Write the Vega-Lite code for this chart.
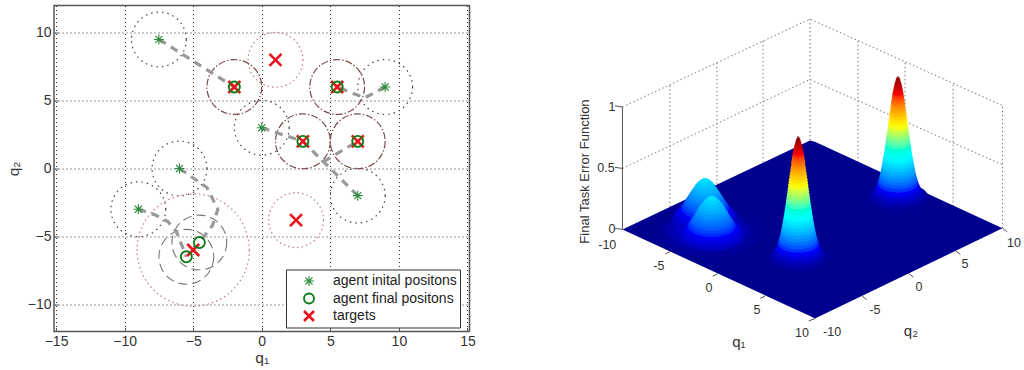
{
"$schema":"https://vega.github.io/schema/vega-lite/v6.json",
"background":"white",
"padding":{"left":5,"top":4.5,"right":0,"bottom":0},
"spacing":94,
"config":{"font":"Liberation Sans","view":{"stroke":null}},
"datasets":{
"circles":[
{"q1":-7.5,"q2":9.5,"radius":2,"kind":"agent range"},{"q1":9,"q2":6,"radius":2,"kind":"agent range"},{"q1":0,"q2":3,"radius":2,"kind":"agent range"},{"q1":7,"q2":-2,"radius":2,"kind":"agent range"},{"q1":-6,"q2":0,"radius":2,"kind":"agent range"},{"q1":-9,"q2":-3,"radius":2,"kind":"agent range"},
{"q1":1,"q2":8,"radius":2,"kind":"target range"},{"q1":2.5,"q2":-3.8,"radius":2,"kind":"target range"},{"q1":-5,"q2":-6,"radius":4.1,"kind":"target range"},
{"q1":-2,"q2":6,"radius":2,"kind":"covered"},{"q1":5.5,"q2":6,"radius":2,"kind":"covered"},{"q1":3,"q2":2,"radius":2,"kind":"covered"},{"q1":7,"q2":2,"radius":2,"kind":"covered"},
{"q1":-4.55,"q2":-5.45,"radius":2,"kind":"final range"},{"q1":-5.5,"q2":-6.5,"radius":2,"kind":"final range"}],
"paths":[
{"path":"a","step":1,"q1":-7.5,"q2":9.5},{"path":"a","step":2,"q1":-2,"q2":6},
{"path":"b","step":1,"q1":9,"q2":6},{"path":"b","step":2,"q1":7.5,"q2":5.2},{"path":"b","step":3,"q1":5.5,"q2":6},
{"path":"c","step":1,"q1":0,"q2":3},{"path":"c","step":2,"q1":3,"q2":2},
{"path":"d","step":1,"q1":7,"q2":-2},{"path":"d","step":2,"q1":3,"q2":2},
{"path":"e","step":1,"q1":4.5,"q2":0.5},{"path":"e","step":2,"q1":7,"q2":2},
{"path":"f","step":1,"q1":-6,"q2":0},{"path":"f","step":2,"q1":-4,"q2":-1.4},{"path":"f","step":3,"q1":-3.2,"q2":-3},{"path":"f","step":4,"q1":-3.6,"q2":-4.2},{"path":"f","step":5,"q1":-4.55,"q2":-5.45},
{"path":"g","step":1,"q1":-9,"q2":-3},{"path":"g","step":2,"q1":-7.8,"q2":-3.4},{"path":"g","step":3,"q1":-6.85,"q2":-3.9},{"path":"g","step":4,"q1":-6.2,"q2":-4.7},{"path":"g","step":5,"q1":-5.5,"q2":-6.5}],
"points":[
{"q1":-7.5,"q2":9.5,"kind":"agent inital positons"},{"q1":9,"q2":6,"kind":"agent inital positons"},{"q1":0,"q2":3,"kind":"agent inital positons"},{"q1":7,"q2":-2,"kind":"agent inital positons"},{"q1":-6,"q2":0,"kind":"agent inital positons"},{"q1":-9,"q2":-3,"kind":"agent inital positons"},
{"q1":-2,"q2":6,"kind":"targets"},{"q1":5.5,"q2":6,"kind":"targets"},{"q1":3,"q2":2,"kind":"targets"},{"q1":7,"q2":2,"kind":"targets"},{"q1":1,"q2":8,"kind":"targets"},{"q1":2.5,"q2":-3.8,"kind":"targets"},{"q1":-5,"q2":-6,"kind":"targets"},
{"q1":-2,"q2":6,"kind":"agent final positons"},{"q1":5.5,"q2":6,"kind":"agent final positons"},{"q1":3,"q2":2,"kind":"agent final positons"},{"q1":7,"q2":2,"kind":"agent final positons"},{"q1":-4.55,"q2":-5.45,"kind":"agent final positons"},{"q1":-5.5,"q2":-6.5,"kind":"agent final positons"}],
"floor":[{"u":-10,"top":0,"bottom":0},{"u":-0.13,"top":0.73,"bottom":-0.71},{"u":0.13,"top":0.72,"bottom":-0.73},{"u":10,"top":0.01,"bottom":0.01}],
"wire":[
{"g":"z1","s":1,"u":-10,"v":1.004},{"g":"z1","s":2,"u":-0.13,"v":1.725},{"g":"z1","s":3,"u":10,"v":1.016},
{"g":"z5","s":1,"u":-10,"v":0.5},{"g":"z5","s":2,"u":-0.13,"v":1.23},{"g":"z5","s":3,"u":10,"v":0.53},
{"g":"a","s":1,"u":-7.5,"v":0.185},{"g":"a","s":2,"u":-7.5,"v":1.185},
{"g":"b","s":1,"u":-5.03,"v":0.37},{"g":"b","s":2,"u":-5.03,"v":1.37},
{"g":"c","s":1,"u":-2.6,"v":0.55},{"g":"c","s":2,"u":-2.6,"v":1.55},
{"g":"d","s":1,"u":-0.13,"v":0.73},{"g":"d","s":2,"u":-0.13,"v":1.725},
{"g":"e","s":1,"u":2.4,"v":0.55},{"g":"e","s":2,"u":2.4,"v":1.55},
{"g":"f","s":1,"u":4.87,"v":0.37},{"g":"f","s":2,"u":4.87,"v":1.37},
{"g":"h","s":1,"u":7.4,"v":0.19},{"g":"h","s":2,"u":7.4,"v":1.19},
{"g":"i","s":1,"u":10,"v":0.01},{"g":"i","s":2,"u":10,"v":1.016}],
"axisLines":[
{"g":"zaxis","s":1,"u":-10,"v":0},{"g":"zaxis","s":2,"u":-10,"v":1.004},
{"g":"z0","s":1,"u":-10,"v":0},{"g":"z0","s":2,"u":-10.4,"v":0.01},
{"g":"z05","s":1,"u":-10,"v":0.5},{"g":"z05","s":2,"u":-10.4,"v":0.51},
{"g":"z10","s":1,"u":-10,"v":1.004},{"g":"z10","s":2,"u":-10.4,"v":1.014},
{"g":"p1","s":1,"u":-7.5,"v":-0.1825},{"g":"p1","s":2,"u":-7.75,"v":-0.2},
{"g":"p2","s":1,"u":-5,"v":-0.365},{"g":"p2","s":2,"u":-5.25,"v":-0.383},
{"g":"p3","s":1,"u":-2.5,"v":-0.5475},{"g":"p3","s":2,"u":-2.75,"v":-0.565},
{"g":"p4","s":1,"u":0.13,"v":-0.73},{"g":"p4","s":2,"u":-0.2,"v":-0.75},
{"g":"r1","s":1,"u":2.6,"v":-0.545},{"g":"r1","s":2,"u":2.85,"v":-0.575},
{"g":"r2","s":1,"u":5.06,"v":-0.36},{"g":"r2","s":2,"u":5.31,"v":-0.39},
{"g":"r3","s":1,"u":7.53,"v":-0.175},{"g":"r3","s":2,"u":7.78,"v":-0.205},
{"g":"r4","s":1,"u":10,"v":0.01},{"g":"r4","s":2,"u":10.25,"v":-0.02}],
"labels":[
{"u":-10.8,"v":-0.13,"t":"-10"},{"u":-8.08,"v":-0.3,"t":"-5"},{"u":-5.45,"v":-0.48,"t":"0"},{"u":-2.92,"v":-0.66,"t":"5"},{"u":-0.55,"v":-0.85,"t":"10"},
{"u":1.03,"v":-0.84,"t":"-10"},{"u":3.29,"v":-0.66,"t":"-5"},{"u":5.6,"v":-0.475,"t":"0"},{"u":8.03,"v":-0.287,"t":"5"},{"u":10.6,"v":-0.107,"t":"10"},
{"u":-10.55,"v":1.008,"t":"1"},{"u":-10.87,"v":0.5,"t":"0.5"},{"u":-10.55,"v":0.008,"t":"0"}],
"axisNames":[{"u":-3.87,"v":-0.926,"t":"q₁"},{"u":5.18,"v":-0.836,"t":"q₂"}],
"title3d":[{"u":-11.97,"v":0.475,"t":"Final Task Error Function"}],
"surface":[
{"u":4.5,"v":0.265,"z":0.01,"spread":30.4},{"u":4.5,"v":0.275,"z":0.02,"spread":28},{"u":4.5,"v":0.295,"z":0.04,"spread":25.4},{"u":4.5,"v":0.315,"z":0.06,"spread":23.7},{"u":4.5,"v":0.335,"z":0.08,"spread":22.5},{"u":4.5,"v":0.355,"z":0.1,"spread":21.5},{"u":4.5,"v":0.38,"z":0.125,"spread":20.4},{"u":4.5,"v":0.405,"z":0.15,"spread":19.5},{"u":4.5,"v":0.43,"z":0.175,"spread":18.7},{"u":4.5,"v":0.455,"z":0.2,"spread":17.9},{"u":4.5,"v":0.48,"z":0.225,"spread":17.3},{"u":4.5,"v":0.505,"z":0.25,"spread":16.7},{"u":4.5,"v":0.53,"z":0.275,"spread":16.1},{"u":4.5,"v":0.555,"z":0.3,"spread":15.5},{"u":4.5,"v":0.58,"z":0.325,"spread":15},{"u":4.5,"v":0.605,"z":0.35,"spread":14.5},{"u":4.5,"v":0.63,"z":0.375,"spread":14},{"u":4.5,"v":0.655,"z":0.4,"spread":13.5},{"u":4.5,"v":0.68,"z":0.425,"spread":13.1},{"u":4.5,"v":0.705,"z":0.45,"spread":12.6},{"u":4.5,"v":0.73,"z":0.475,"spread":12.2},{"u":4.5,"v":0.755,"z":0.5,"spread":11.8},{"u":4.5,"v":0.78,"z":0.525,"spread":11.4},{"u":4.5,"v":0.805,"z":0.55,"spread":10.9},{"u":4.5,"v":0.83,"z":0.575,"spread":10.5},{"u":4.5,"v":0.855,"z":0.6,"spread":10.1},{"u":4.5,"v":0.88,"z":0.625,"spread":9.7},{"u":4.5,"v":0.905,"z":0.65,"spread":9.3},{"u":4.5,"v":0.93,"z":0.675,"spread":8.9},{"u":4.5,"v":0.955,"z":0.7,"spread":8.5},{"u":4.5,"v":0.98,"z":0.725,"spread":8},{"u":4.5,"v":1.005,"z":0.75,"spread":7.6},{"u":4.5,"v":1.03,"z":0.775,"spread":7.1},{"u":4.5,"v":1.0425,"z":0.7875,"spread":6.9},{"u":4.5,"v":1.055,"z":0.8,"spread":6.7},{"u":4.5,"v":1.0675,"z":0.8125,"spread":6.45},{"u":4.5,"v":1.08,"z":0.825,"spread":6.2},{"u":4.5,"v":1.0925,"z":0.8375,"spread":5.95},{"u":4.5,"v":1.105,"z":0.85,"spread":5.7},{"u":4.5,"v":1.1175,"z":0.8625,"spread":5.45},{"u":4.5,"v":1.13,"z":0.875,"spread":5.2},{"u":4.5,"v":1.1425,"z":0.8875,"spread":4.9},{"u":4.5,"v":1.155,"z":0.9,"spread":4.6},{"u":4.5,"v":1.1675,"z":0.9125,"spread":4.3},{"u":4.5,"v":1.18,"z":0.925,"spread":4},{"u":4.5,"v":1.1925,"z":0.9375,"spread":3.6},{"u":4.5,"v":1.205,"z":0.95,"spread":3.2},{"u":4.5,"v":1.2175,"z":0.9625,"spread":2.8},{"u":4.5,"v":1.23,"z":0.975,"spread":2.3},{"u":4.5,"v":1.24,"z":0.985,"spread":1.8},{"u":4.5,"v":1.25,"z":0.995,"spread":1.2},
{"u":-5.5,"v":-0.03,"z":0.01,"spread":51.2},{"u":-5.5,"v":-0.02,"z":0.02,"spread":44.2},{"u":-5.5,"v":-0.01,"z":0.03,"spread":39.5},{"u":-5.5,"v":0,"z":0.04,"spread":35.8},{"u":-5.5,"v":0.01,"z":0.05,"spread":32.6},{"u":-5.5,"v":0.02,"z":0.06,"spread":29.8},{"u":-5.5,"v":0.04,"z":0.08,"spread":24.7},{"u":-5.5,"v":0.06,"z":0.1,"spread":19.8},{"u":-5.5,"v":0.08,"z":0.12,"spread":14.7},
{"u":-5.65,"v":0.0965,"z":0.05,"spread":32.7},{"u":-5.65,"v":0.1165,"z":0.07,"spread":30},{"u":-5.65,"v":0.1365,"z":0.085,"spread":27.8},{"u":-5.65,"v":0.1565,"z":0.1,"spread":25.8},{"u":-5.65,"v":0.1765,"z":0.12,"spread":24},{"u":-5.65,"v":0.1965,"z":0.135,"spread":22.4},{"u":-5.65,"v":0.2165,"z":0.155,"spread":20.8},{"u":-5.65,"v":0.2365,"z":0.17,"spread":19.3},{"u":-5.65,"v":0.2565,"z":0.185,"spread":17.8},{"u":-5.65,"v":0.2765,"z":0.205,"spread":16.3},{"u":-5.65,"v":0.2965,"z":0.22,"spread":14.8},{"u":-5.65,"v":0.3165,"z":0.24,"spread":13.3},{"u":-5.65,"v":0.3365,"z":0.255,"spread":11.7},{"u":-5.65,"v":0.3565,"z":0.27,"spread":10},{"u":-5.65,"v":0.3765,"z":0.29,"spread":8},{"u":-5.65,"v":0.3965,"z":0.305,"spread":5.6},{"u":-5.65,"v":0.4115,"z":0.32,"spread":2.8},
{"u":-5.3,"v":-0.05,"z":0.05,"spread":32.7},{"u":-5.3,"v":-0.03,"z":0.07,"spread":30},{"u":-5.3,"v":-0.01,"z":0.085,"spread":27.8},{"u":-5.3,"v":0.01,"z":0.1,"spread":25.8},{"u":-5.3,"v":0.03,"z":0.12,"spread":24},{"u":-5.3,"v":0.05,"z":0.135,"spread":22.4},{"u":-5.3,"v":0.07,"z":0.155,"spread":20.8},{"u":-5.3,"v":0.09,"z":0.17,"spread":19.3},{"u":-5.3,"v":0.11,"z":0.185,"spread":17.8},{"u":-5.3,"v":0.13,"z":0.205,"spread":16.3},{"u":-5.3,"v":0.15,"z":0.22,"spread":14.8},{"u":-5.3,"v":0.17,"z":0.24,"spread":13.3},{"u":-5.3,"v":0.19,"z":0.255,"spread":11.7},{"u":-5.3,"v":0.21,"z":0.27,"spread":10},{"u":-5.3,"v":0.23,"z":0.29,"spread":8},{"u":-5.3,"v":0.25,"z":0.305,"spread":5.6},{"u":-5.3,"v":0.265,"z":0.32,"spread":2.8},
{"u":-0.75,"v":-0.228,"z":0.01,"spread":30.4},{"u":-0.75,"v":-0.218,"z":0.02,"spread":28},{"u":-0.75,"v":-0.198,"z":0.04,"spread":25.4},{"u":-0.75,"v":-0.178,"z":0.06,"spread":23.7},{"u":-0.75,"v":-0.158,"z":0.08,"spread":22.5},{"u":-0.75,"v":-0.138,"z":0.1,"spread":21.5},{"u":-0.75,"v":-0.113,"z":0.125,"spread":20.4},{"u":-0.75,"v":-0.088,"z":0.15,"spread":19.5},{"u":-0.75,"v":-0.063,"z":0.175,"spread":18.7},{"u":-0.75,"v":-0.038,"z":0.2,"spread":17.9},{"u":-0.75,"v":-0.013,"z":0.225,"spread":17.3},{"u":-0.75,"v":0.012,"z":0.25,"spread":16.7},{"u":-0.75,"v":0.037,"z":0.275,"spread":16.1},{"u":-0.75,"v":0.062,"z":0.3,"spread":15.5},{"u":-0.75,"v":0.087,"z":0.325,"spread":15},{"u":-0.75,"v":0.112,"z":0.35,"spread":14.5},{"u":-0.75,"v":0.137,"z":0.375,"spread":14},{"u":-0.75,"v":0.162,"z":0.4,"spread":13.5},{"u":-0.75,"v":0.187,"z":0.425,"spread":13.1},{"u":-0.75,"v":0.212,"z":0.45,"spread":12.6},{"u":-0.75,"v":0.237,"z":0.475,"spread":12.2},{"u":-0.75,"v":0.262,"z":0.5,"spread":11.8},{"u":-0.75,"v":0.287,"z":0.525,"spread":11.4},{"u":-0.75,"v":0.312,"z":0.55,"spread":10.9},{"u":-0.75,"v":0.337,"z":0.575,"spread":10.5},{"u":-0.75,"v":0.362,"z":0.6,"spread":10.1},{"u":-0.75,"v":0.387,"z":0.625,"spread":9.7},{"u":-0.75,"v":0.412,"z":0.65,"spread":9.3},{"u":-0.75,"v":0.437,"z":0.675,"spread":8.9},{"u":-0.75,"v":0.462,"z":0.7,"spread":8.5},{"u":-0.75,"v":0.487,"z":0.725,"spread":8},{"u":-0.75,"v":0.512,"z":0.75,"spread":7.6},{"u":-0.75,"v":0.537,"z":0.775,"spread":7.1},{"u":-0.75,"v":0.5495,"z":0.7875,"spread":6.9},{"u":-0.75,"v":0.562,"z":0.8,"spread":6.7},{"u":-0.75,"v":0.5745,"z":0.8125,"spread":6.45},{"u":-0.75,"v":0.587,"z":0.825,"spread":6.2},{"u":-0.75,"v":0.5995,"z":0.8375,"spread":5.95},{"u":-0.75,"v":0.612,"z":0.85,"spread":5.7},{"u":-0.75,"v":0.6245,"z":0.8625,"spread":5.45},{"u":-0.75,"v":0.637,"z":0.875,"spread":5.2},{"u":-0.75,"v":0.6495,"z":0.8875,"spread":4.9},{"u":-0.75,"v":0.662,"z":0.9,"spread":4.6},{"u":-0.75,"v":0.6745,"z":0.9125,"spread":4.3},{"u":-0.75,"v":0.687,"z":0.925,"spread":4},{"u":-0.75,"v":0.6995,"z":0.9375,"spread":3.6},{"u":-0.75,"v":0.712,"z":0.95,"spread":3.2},{"u":-0.75,"v":0.7245,"z":0.9625,"spread":2.8},{"u":-0.75,"v":0.737,"z":0.975,"spread":2.3},{"u":-0.75,"v":0.747,"z":0.985,"spread":1.8},{"u":-0.75,"v":0.757,"z":0.995,"spread":1.2}
]},
"hconcat":[
{"width":415.5,"height":326,
"view":{"stroke":"#555","strokeWidth":1.5},
"resolve":{"scale":{"size":"independent"}},
"encoding":{
"x":{"field":"q1","type":"quantitative","title":"q₁","scale":{"domain":[-15.15,15.15],"nice":false,"zero":false},
"axis":{"values":[-15,-10,-5,0,5,10,15],"grid":true,"gridColor":"#333","gridDash":[1,3],"gridOpacity":1,"tickSize":-4,"tickColor":"#555","domain":false,"labelFontSize":14,"labelColor":"#333","labelPadding":7,"titleFontSize":15.5,"titleFontWeight":"normal","titleColor":"#333","titlePadding":2}},
"y":{"field":"q2","type":"quantitative","title":"q₂","scale":{"domain":[-12,12],"nice":false,"zero":false},
"axis":{"values":[-10,-5,0,5,10],"grid":true,"gridColor":"#333","gridDash":[1,3],"gridOpacity":1,"tickSize":-4,"tickColor":"#555","domain":false,"labelFontSize":14,"labelColor":"#333","labelPadding":7,"titleFontSize":15.5,"titleFontWeight":"normal","titleColor":"#333","titlePadding":6}}},
"layer":[
{"data":{"name":"circles"},"transform":[{"filter":"datum.kind==='agent range'"}],"mark":{"type":"point","filled":false,"opacity":1,"strokeWidth":1.2,"stroke":"#444444","strokeDash":[1.5,4]},
"encoding":{"size":{"field":"radius","type":"quantitative","legend":null,"scale":{"type":"pow","exponent":2,"domain":[0,4],"range":[0,12014]}}}},
{"data":{"name":"circles"},"transform":[{"filter":"datum.kind==='target range'"}],"mark":{"type":"point","filled":false,"opacity":1,"strokeWidth":1.3,"stroke":"#c98585","strokeDash":[1.5,3]},
"encoding":{"size":{"field":"radius","type":"quantitative","legend":null,"scale":{"type":"pow","exponent":2,"domain":[0,4],"range":[0,12014]}}}},
{"data":{"name":"circles"},"transform":[{"filter":"datum.kind==='covered'"}],"mark":{"type":"point","filled":false,"opacity":1,"strokeWidth":1.2,"stroke":"#7a4a4a","strokeDash":[7,2,1.5,2]},
"encoding":{"size":{"field":"radius","type":"quantitative","legend":null,"scale":{"type":"pow","exponent":2,"domain":[0,4],"range":[0,12014]}}}},
{"data":{"name":"circles"},"transform":[{"filter":"datum.kind==='final range'"}],"mark":{"type":"point","filled":false,"opacity":1,"strokeWidth":1.1,"stroke":"#777777","strokeDash":[9,5]},
"encoding":{"size":{"field":"radius","type":"quantitative","legend":null,"scale":{"type":"pow","exponent":2,"domain":[0,4],"range":[0,12014]}}}},
{"data":{"name":"paths"},"mark":{"type":"line","stroke":"#999999","strokeWidth":3.2,"strokeDash":[8,6]},
"encoding":{"detail":{"field":"path"},"order":{"field":"step","type":"quantitative"}}},
{"data":{"name":"points"},"mark":{"type":"point","filled":false,"opacity":1},
"encoding":{
"shape":{"field":"kind","type":"nominal","title":null,"scale":{"domain":["agent inital positons","agent final positons","targets"],"range":["M-1,0L1,0M0,-1L0,1M-0.7,-0.7L0.7,0.7M-0.7,0.7L0.7,-0.7","circle","M-1,-1L1,1M-1,1L1,-1"]},
"legend":{"orient":"none","legendX":232,"legendY":264,"fillColor":"white","strokeColor":"#333","padding":3,"labelFontSize":14,"labelColor":"#222","labelOffset":17,"rowPadding":0.5,"clipHeight":17,"symbolOffset":13,"labelLimit":200,
"encode":{"symbols":{"update":{"size":{"signal":"datum.value==='targets'?225:datum.value==='agent final positons'?144:100"},"strokeWidth":{"signal":"datum.value==='agent inital positons'?1.1:2.6"}}}}}},
"stroke":{"field":"kind","type":"nominal","title":null,"scale":{"domain":["agent inital positons","agent final positons","targets"],"range":["#2e8b3e","#0b7a12","#e8141c"]}},
"size":{"field":"kind","type":"ordinal","legend":null,"scale":{"domain":["agent inital positons","agent final positons","targets"],"range":[100,144,225]}},
"strokeWidth":{"field":"kind","type":"ordinal","legend":null,"scale":{"domain":["agent inital positons","agent final positons","targets"],"range":[1.1,2.6,2.6]}}}}
]},
{"width":450,"height":360,
"encoding":{
"x":{"field":"u","type":"quantitative","axis":null,"scale":{"domain":[-12.76,10.92],"nice":false,"zero":false}},
"y":{"field":"v","type":"quantitative","axis":null,"scale":{"domain":[-1.115,1.836],"nice":false,"zero":false}}},
"layer":[
{"data":{"name":"wire"},"mark":{"type":"line","stroke":"#777","strokeWidth":1,"strokeDash":[1.5,2.5]},"encoding":{"detail":{"field":"g"},"order":{"field":"s","type":"quantitative"}}},
{"data":{"name":"axisLines"},"mark":{"type":"line","stroke":"#555","strokeWidth":1},"encoding":{"detail":{"field":"g"},"order":{"field":"s","type":"quantitative"}}},
{"data":{"name":"floor"},"mark":{"type":"area","fill":"#00008f","orient":"vertical"},"encoding":{"y":{"field":"top","type":"quantitative"},"y2":{"field":"bottom"}}},
{"data":{"name":"surface"},"mark":{"type":"point","filled":true,"opacity":1,"strokeWidth":0,"shape":"M-1,0A1,0.468,0,1,0,1,0A1,0.468,0,1,0,-1,0Z"},
"encoding":{
"color":{"field":"z","type":"quantitative","legend":null,"scale":{"domain":[0,0.11,0.36,0.61,0.86,1],"range":["#00008f","#0000ff","#00ffff","#ffff00","#ff0000","#800000"]}},
"size":{"field":"spread","type":"quantitative","legend":null,"scale":{"type":"pow","exponent":2,"domain":[0,50],"range":[0,10000]}}}},
{"data":{"name":"labels"},"mark":{"type":"text","font":"Liberation Sans","fontSize":12.5,"fill":"#333"},"encoding":{"text":{"field":"t"}}},
{"data":{"name":"axisNames"},"mark":{"type":"text","font":"Liberation Sans","fontSize":15,"fill":"#333"},"encoding":{"text":{"field":"t"}}},
{"data":{"name":"title3d"},"mark":{"type":"text","font":"Liberation Sans","fontSize":13,"fill":"#333","angle":270},"encoding":{"text":{"field":"t"}}}
]}
]}
